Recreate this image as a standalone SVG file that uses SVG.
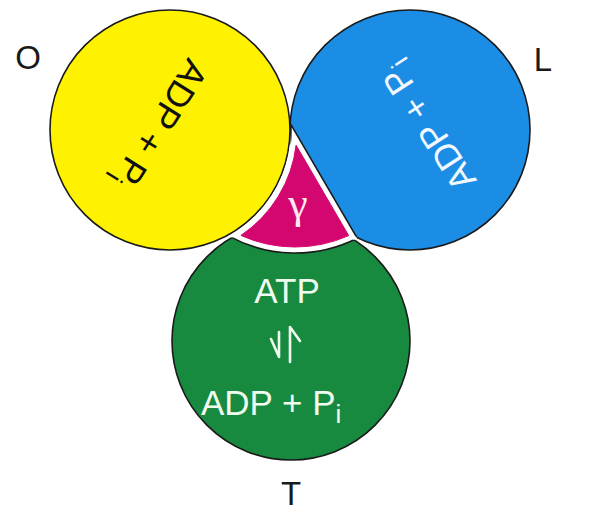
<svg xmlns="http://www.w3.org/2000/svg" width="590" height="513" viewBox="0 0 590 513">
<style>
.ring{stroke:#1a1a1a;stroke-width:1.6}
.lbl{font-family:"Liberation Sans",Arial,sans-serif;font-size:33px;fill:#1a1a1a}
.t{font-family:"Liberation Sans",Arial,sans-serif;font-size:35px}
.rt{font-family:"Liberation Sans",Arial,sans-serif;font-size:36px}
.harp{fill:none;stroke:#eefbee;stroke-width:2.6;stroke-linecap:round;stroke-linejoin:round}
</style>
<defs>
<clipPath id="gb"><circle cx="291" cy="341" r="119"/><circle cx="410" cy="130" r="120"/></clipPath>
</defs>
<rect width="590" height="513" fill="#ffffff"/>
<g id="node-T">
<circle class="ring" cx="291" cy="341" r="119" fill="#178A3F"/>
<text class="t" x="287" y="303" text-anchor="middle" fill="#eefbee">ATP</text>
<path class="harp" d="M279,332 L279,357 L271,339 M290,362 L290,327 L300,341"/>
<text class="t" x="201" y="415" fill="#eefbee">ADP + P<tspan dy="8" font-size="26">i</tspan></text>
</g>
<g id="node-L">
<circle class="ring" cx="410" cy="130" r="120" fill="#1C8DE5"/>
<text class="rt" transform="translate(438,120) rotate(-123)" text-anchor="middle" fill="#f2f8ff">ADP + P<tspan dy="8" font-size="26">i</tspan></text>
</g>
<g id="node-O">
<circle class="ring" cx="170" cy="130" r="120" fill="#FFF200"/>
<text class="rt" transform="translate(150,118) rotate(122)" text-anchor="middle" fill="#111">ADP + P<tspan dy="8" font-size="26">i</tspan></text>
</g>
<g id="node-gamma">
<path d="M290.8,124.3 L357.2,238.2 A138,138 0 0 1 228.5,235.9 A121,121 0 0 0 290.8,124.3 Z" fill="#ffffff"/>
<path d="M290.8,124.3 L357.2,238.2 A138,138 0 0 1 228.5,235.9 A121,121 0 0 0 290.8,124.3 Z" fill="none" stroke="#1a1a1a" stroke-width="1.6" clip-path="url(#gb)"/>
<path d="M296.1,145.2 L348.7,235.6 A132,132 0 0 1 240.9,235.4 A127,127 0 0 0 296.1,145.2 Z" fill="#D4066F" stroke="#D4066F" stroke-width="1" stroke-linejoin="round"/>
<text x="298" y="218" text-anchor="middle" font-family="'Liberation Serif','Times New Roman',serif" font-size="44" fill="#ffe8f2">γ</text>
</g>
<g id="connectors"/>
<g id="labels">
<text class="lbl" x="28" y="69" text-anchor="middle">O</text>
<text class="lbl" x="543" y="71" text-anchor="middle">L</text>
<text class="lbl" x="291" y="505" text-anchor="middle">T</text>
</g>
</svg>
